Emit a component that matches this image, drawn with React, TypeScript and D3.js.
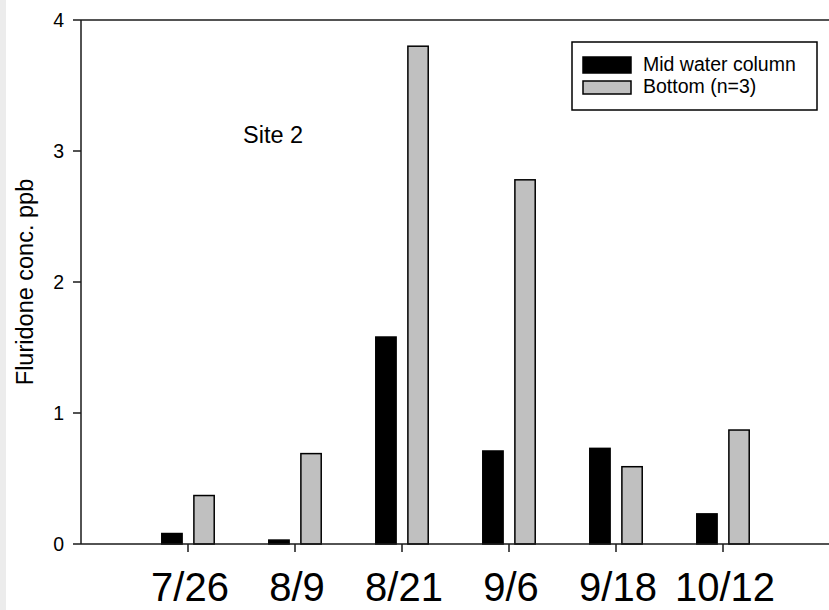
import React from "react";
import * as d3 from "d3";

// sampling dates (site 2)
const dates = ["7/26", "8/9", "8/21", "9/6", "9/18", "10/12"];
// fluridone concentration, ppb
const midWater = [0.08, 0.03, 1.58, 0.71, 0.73, 0.23];
const bottom = [0.37, 0.69, 3.8, 2.78, 0.59, 0.87];
const yTicks = [0, 1, 2, 3, 4];
const seriesNames = ["Mid water column", "Bottom (n=3)"];

const W = 829;
const H = 610;
const FONT = "'Liberation Sans', Arial, Helvetica, sans-serif";

const App = () => {
  // x is a position scale: slot 0 is empty, dates sit on 1..6
  const x = d3.scaleLinear().domain([0, 7]).range([81, 830]);
  const y = d3.scaleLinear().domain([0, 4]).range([544, 20]);

  const barW = x(0.19) - x(0);
  const offset = x(0.15) - x(0);

  const series = [
    { name: seriesNames[0], values: midWater, fill: "#000000", dx: -offset },
    { name: seriesNames[1], values: bottom, fill: "#c0c0c0", dx: offset },
  ];

  const axisColor = "#1a1a1a";

  return (
    <div style={{ position: "absolute", left: 0, top: 0 }}>
      <svg width={W} height={H} style={{ display: "block", background: "#fff" }}>
        <rect x={0} y={0} width={6} height={H} fill="#ececec" />

        {/* bars */}
        {series.map((s) => (
          <g key={s.name}>
            {s.values.map((v, i) => (
              <rect
                key={dates[i]}
                x={x(i + 1) + s.dx - barW / 2}
                y={y(v)}
                width={barW}
                height={y(0) - y(v)}
                fill={s.fill}
                stroke="#000"
                strokeWidth={1.5}
              />
            ))}
          </g>
        ))}

        {/* frame: left axis, bottom axis, top line */}
        <line x1={x(0)} x2={x(0)} y1={y(4)} y2={y(0)} stroke={axisColor} strokeWidth={1.5} />
        <line x1={x(0)} x2={x(7)} y1={y(0)} y2={y(0)} stroke={axisColor} strokeWidth={1.5} />
        <line x1={x(0)} x2={x(7)} y1={y(4)} y2={y(4)} stroke={axisColor} strokeWidth={1.5} />

        {/* y ticks */}
        {yTicks.map((t) => (
          <g key={t}>
            <line x1={x(0) - 8} x2={x(0)} y1={y(t)} y2={y(t)} stroke={axisColor} strokeWidth={1.5} />
            <text
              x={x(0) - 17}
              y={y(t)}
              dy="0.35em"
              textAnchor="end"
              fontFamily={FONT}
              fontSize={19.5}
              fill="#000"
            >
              {t}
            </text>
          </g>
        ))}

        {/* x ticks */}
        {dates.map((d, i) => (
          <g key={d}>
            <line x1={x(i + 1)} x2={x(i + 1)} y1={y(0)} y2={y(0) + 8} stroke={axisColor} strokeWidth={1.5} />
            <text
              x={x(i + 1) + 2}
              y={601}
              textAnchor="middle"
              fontFamily={FONT}
              fontSize={40}
              fill="#000"
            >
              {d}
            </text>
          </g>
        ))}

        {/* y title */}
        <text
          transform={`translate(33,${(y(0) + y(4)) / 2}) rotate(-90)`}
          textAnchor="middle"
          fontFamily={FONT}
          fontSize={23.5}
          fill="#000"
        >
          Fluridone conc. ppb
        </text>

        <text x={243} y={143} fontFamily={FONT} fontSize={23.5} fill="#000">
          Site 2
        </text>

        {/* legend */}
        <g>
          <rect x={572} y={42} width={245} height={68} fill="#fff" stroke="#000" strokeWidth={1.5} />
          {series.map((s, i) => (
            <g key={s.name}>
              <rect
                x={583}
                y={i === 0 ? 57 : 81}
                width={48}
                height={i === 0 ? 16 : 13}
                fill={s.fill}
                stroke="#000"
                strokeWidth={1.5}
              />
              <text x={643} y={i === 0 ? 71 : 93} fontFamily={FONT} fontSize={19.5} fill="#000">
                {s.name}
              </text>
            </g>
          ))}
        </g>
      </svg>
    </div>
  );
};

export default App;
